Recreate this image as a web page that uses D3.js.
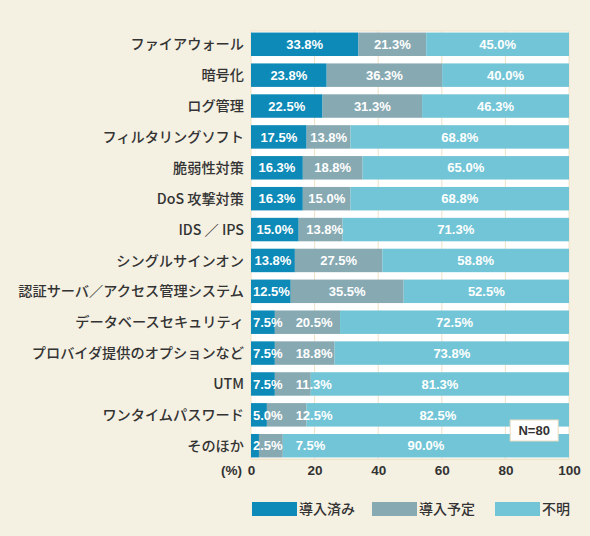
<!DOCTYPE html>
<html>
<head>
<meta charset="utf-8">
<script src="https://cdn.jsdelivr.net/npm/d3@7"></script>
<style>
  body { margin: 0; background: #f4f0e2; }
  svg { display: block; }
</style>
</head>
<body>
<div id="chart"></div>
<script>
const categories = ["ファイアウォール", "暗号化", "ログ管理", "フィルタリングソフト", "脆弱性対策", "DoS 攻撃対策", "IDS ／ IPS", "シングルサインオン", "認証サーバ／アクセス管理システム", "データベースセキュリティ", "プロバイダ提供のオプションなど", "UTM", "ワンタイムパスワード", "そのほか"]
const installed = [33.8, 23.8, 22.5, 17.5, 16.3, 16.3, 15.0, 13.8, 12.5, 7.5, 7.5, 7.5, 5.0, 2.5]
const planned = [21.3, 36.3, 31.3, 13.8, 18.8, 15.0, 13.8, 27.5, 35.5, 20.5, 18.8, 11.3, 12.5, 7.5]
const unknown = [45.0, 40.0, 46.3, 68.8, 65.0, 68.8, 71.3, 58.8, 52.5, 72.5, 73.8, 81.3, 82.5, 90.0]
const seriesNames = ["導入済み", "導入予定", "不明"]
const xTicks = [0, 20, 40, 60, 80, 100]

const
  width = 590,
  height = 536,
  margin = { top: 31, bottom: 77, left: 251, right: 21 };

const colors = ["#0d8ab7", "#87a9b2", "#72c5d6"]
const gridColor = "#efe2c6"

var svg = d3.select("#chart")
  .append("svg")
  .attr("width", width)
  .attr("height", height)

svg.append("rect")
  .attr("width", width).attr("height", height)
  .attr("fill", "#f4f0e2")

var x = d3.scaleLinear()
  .domain([0, 100])
  .range([margin.left, width - margin.right])

var y = d3.scaleBand()
  .domain(categories)
  .range([margin.top, height - margin.bottom])
  .paddingInner(0.24)
  .paddingOuter(0.05)

// white plot area
svg.append("rect")
  .attr("x", x(0))
  .attr("y", margin.top)
  .attr("width", x(100) - x(0))
  .attr("height", height - margin.bottom - margin.top)
  .attr("fill", "white")
  .attr("stroke", gridColor)
  .attr("stroke-width", 1)

svg.append("g")
  .selectAll("line")
  .data(xTicks.slice(1, -1))
  .enter()
  .append("line")
  .attr("x1", d => x(d)).attr("x2", d => x(d))
  .attr("y1", margin.top).attr("y2", height - margin.bottom)
  .attr("stroke", gridColor)
  .attr("stroke-width", 1)

const rows = categories.map((c, i) => ({ cat: c, vals: [installed[i], planned[i], unknown[i]] }))

// measure text width helper
const measure = svg.append("text")
  .style("font-family", "'Liberation Sans', Arial, sans-serif")
  .style("font-size", "13px")
  .style("font-weight", "bold")
  .attr("opacity", 0)

rows.forEach(r => {
  let start = 0
  let prevEnd = -Infinity
  r.vals.forEach((v, k) => {
    const end = Math.min(100, start + v)
    svg.append("rect")
      .attr("x", x(start))
      .attr("y", y(r.cat))
      .attr("width", x(end) - x(start))
      .attr("height", y.bandwidth())
      .attr("fill", colors[k])

    const txt = v.toFixed(1) + "%"
    measure.text(txt)
    const w = measure.node().getComputedTextLength()
    let cx = (x(start) + x(end)) / 2
    cx = Math.max(cx, x(start) + 2 + w / 2, prevEnd + 13 + w / 2)
    prevEnd = cx + w / 2
    r["lab" + k] = { txt, cx }
    start = end
  })
})

rows.forEach(r => {
  [0, 1, 2].forEach(k => {
    const l = r["lab" + k]
    svg.append("text")
      .attr("x", l.cx)
      .attr("y", y(r.cat) + y.bandwidth() / 2)
      .attr("dy", "0.36em")
      .attr("text-anchor", "middle")
      .style("font-family", "'Liberation Sans', Arial, sans-serif")
      .style("font-size", "13px")
      .style("font-weight", "bold")
      .style("fill", "white")
      .text(l.txt)
  })
})
measure.remove()

// category labels
svg.append("g")
  .selectAll("text")
  .data(categories)
  .enter()
  .append("text")
  .attr("x", margin.left - 7)
  .attr("y", d => y(d) + y.bandwidth() / 2)
  .attr("dy", "0.36em")
  .attr("text-anchor", "end")
  .style("font-family", "'Noto Sans CJK JP', sans-serif")
  .style("font-size", "14.2px")
  .style("font-weight", "500")
  .style("fill", "#333")
  .text(d => d)

// x axis
var xAxis = svg.append("g")
  .attr("transform", `translate(0,${height - margin.bottom})`)
  .call(d3.axisBottom(x).tickValues(xTicks).tickSize(0).tickPadding(6))
xAxis.select(".domain").attr("stroke", gridColor)
xAxis.selectAll("text")
  .style("font-family", "'Liberation Sans', Arial, sans-serif")
  .style("font-size", "13.5px")
  .style("font-weight", "bold")
  .style("fill", "#333")

svg.append("text")
  .attr("x", x(0) - 9)
  .attr("y", height - margin.bottom + 6)
  .attr("dy", "0.71em")
  .attr("text-anchor", "end")
  .style("font-family", "'Liberation Sans', Arial, sans-serif")
  .style("font-size", "13.5px")
  .style("font-weight", "bold")
  .style("fill", "#333")
  .text("(%)")

// N=80 box
var nBox = svg.append("g").attr("transform", `translate(${x(81.5)},${y("そのほか") - 14})`)
nBox.append("rect")
  .attr("width", 48).attr("height", 21)
  .attr("fill", "white")
  .attr("stroke", "#e8dcc0")
nBox.append("text")
  .attr("x", 24).attr("y", 10.5).attr("dy", "0.36em")
  .attr("text-anchor", "middle")
  .style("font-family", "'Liberation Sans', Arial, sans-serif")
  .style("font-size", "13px")
  .style("font-weight", "bold")
  .style("fill", "#333")
  .text("N=80")

// legend
const legendX = [252, 372, 495]
var legend = svg.append("g")
  .selectAll("g")
  .data(seriesNames)
  .enter()
  .append("g")
  .attr("transform", (d, i) => `translate(${legendX[i]},502)`)
legend.append("rect")
  .attr("width", 45).attr("height", 14)
  .attr("fill", (d, i) => colors[i])
legend.append("text")
  .attr("x", 47).attr("y", 7).attr("dy", "0.36em")
  .style("font-family", "'Noto Sans CJK JP', sans-serif")
  .style("font-size", "14px")
  .style("font-weight", "500")
  .style("fill", "#333")
  .text(d => d)
</script>
</body>
</html>
